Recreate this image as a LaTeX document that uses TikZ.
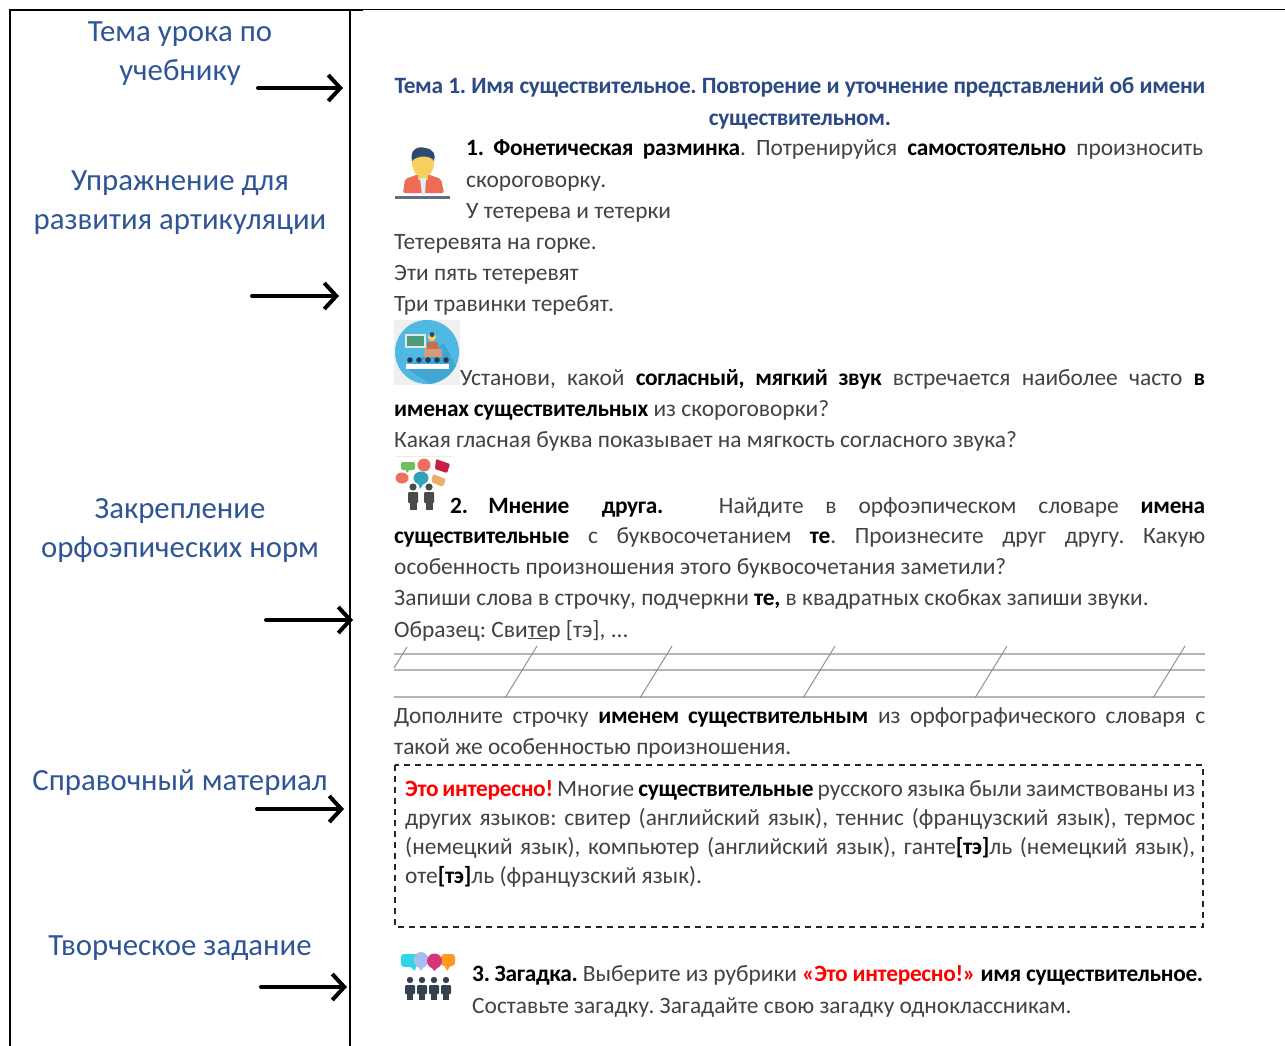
\documentclass[tikz,border=0pt]{standalone}
\usepackage{fontspec}
\setmainfont{Carlito}[BoldFeatures={LetterSpace=-1.4}]
\usetikzlibrary{arrows.meta}
\definecolor{lab}{HTML}{2F5597}
\definecolor{ttl}{HTML}{2B4A86}
\definecolor{body}{HTML}{424242}
\definecolor{rul}{HTML}{B5B5B5}
\definecolor{skin}{HTML}{F8CF5C}
\definecolor{hair}{HTML}{2C4A6E}
\definecolor{shirt}{HTML}{EE6B55}
\definecolor{sky}{HTML}{4FB9E3}
\definecolor{skyd}{HTML}{42A6D0}
\definecolor{board}{HTML}{4E9B7E}
\definecolor{brwn}{HTML}{C8703F}
\definecolor{bargray}{HTML}{5C6F85}
\definecolor{gbub}{HTML}{6FBF5E}
\definecolor{cbub}{HTML}{EE6F5E}
\definecolor{crim}{HTML}{C41F45}
\definecolor{teal}{HTML}{2FA3B8}
\definecolor{tan}{HTML}{EDAE6B}
\definecolor{ppl}{HTML}{4A4A4A}
\definecolor{ppl2}{HTML}{36414F}
\definecolor{bcy}{HTML}{2FD6E6}
\definecolor{bbl}{HTML}{A5BDF0}
\definecolor{bmg}{HTML}{D8347A}
\definecolor{bor}{HTML}{FF9A1F}
\newcommand\fitw[2]{\makebox[#1pt][s]{#2}}
\newcommand\bb[1]{\textbf{\textcolor{black}{#1}}}
\newcommand\rr[1]{\textbf{\textcolor{red}{#1}}}
\tikzset{
 lbl/.style={inner sep=0pt,align=center,text=lab,font=\fontsize{30.8}{39}\selectfont},
 txt/.style={inner sep=0pt,anchor=base west,text=body,font=\fontsize{23.4}{26}\selectfont\frenchspacing},
 ttlx/.style={inner sep=0pt,anchor=base,text=ttl,font=\bfseries\fontsize{23.4}{26}\selectfont\frenchspacing},
 frame/.style={line width=2.2pt,black},
 arr/.style={line width=4pt,black,line cap=round,-{Straight Barb[length=12pt,width=26pt,line width=4pt]}},
 wr/.style={line width=1.4pt,rul},
 sl/.style={line width=1pt,rul!80!black}
}
\begin{document}
\begin{tikzpicture}[x=1pt,y=-1pt]
\useasboundingbox (0,0) rectangle (1285,1046);
\fill[white] (0,0) rectangle (1285,1046);
% frame
\coordinate (ftl) at (10,10); \coordinate (fbl) at (10,1046);
\coordinate (fm) at (350,10); \coordinate (fmb) at (350,1046);
\coordinate (ftm) at (363,10); \coordinate (ftr) at (1285,10);
\draw[frame] (fbl) -- (ftl) -- (ftm);
\draw[frame] (fm) -- (fmb);
\draw[line width=1pt,black] (ftm) -- (ftr);
% labels
\node[lbl] (l1) at (180,54) {Тема урока по\\учебнику};
\node[lbl] (l2) at (180,203) {Упражнение для\\развития артикуляции};
\node[lbl] (l3) at (180,531) {Закрепление\\орфоэпических норм};
\node[lbl] (l4) at (180,783) {Справочный материал};
\node[lbl] (l5) at (180,948) {Творческое задание};
% arrows
\coordinate (a1s) at (258,88); \coordinate (a1e) at (343,88);
\coordinate (a2s) at (252,296); \coordinate (a2e) at (339,296);
\coordinate (a3s) at (266,620); \coordinate (a3e) at (353,620);
\coordinate (a4s) at (257,809); \coordinate (a4e) at (344,809);
\coordinate (a5s) at (261,987); \coordinate (a5e) at (347,987);
\draw[arr] (a1s) -- (a1e);
\draw[arr] (a2s) -- (a2e);
\draw[arr] (a3s) -- (a3e);
\draw[arr] (a4s) -- (a4e);
\draw[arr] (a5s) -- (a5e);
% title
\node[ttlx] (t1) at (800,94) {\fitw{811}{Тема 1. Имя существительное. Повторение и уточнение представлений об имени}};
\node[ttlx] (t2) at (800,126) {существительном.};
% body
\node[txt] (b1) at (466,156) {\fitw{737}{\bb{1. Фонетическая разминка}. Потренируйся \bb{самостоятельно} произносить}};
\node[txt] (b2) at (466,187) {скороговорку.};
\node[txt] (b3) at (466,218) {У тетерева и тетерки};
\node[txt] (b4) at (394,249) {Тетеревята на горке.};
\node[txt] (b5) at (394,280) {Эти пять тетеревят};
\node[txt] (b6) at (394,311) {Три травинки теребят.};
\node[txt] (b7) at (460,385) {\fitw{745}{Установи, какой \bb{согласный, мягкий звук} встречается наиболее часто \bb{в}}};
\node[txt] (b8) at (394,416) {\bb{именах существительных} из скороговорки?};
\node[txt] (b9) at (394,447) {Какая гласная буква показывает на мягкость согласного звука?};
\node[txt] (b10) at (450,513) {\fitw{755}{\bb{2. Мнение\hspace{12pt} друга.} \hspace{12pt} Найдите в орфоэпическом словаре \bb{имена}}};
\node[txt] (b11) at (394,543) {\fitw{811}{\bb{существительные} с буквосочетанием \bb{те}. Произнесите друг другу. Какую}};
\node[txt] (b12) at (394,574) {особенность произношения этого буквосочетания заметили?};
\node[txt] (b13) at (394,605) {Запиши слова в строчку, подчеркни \bb{те,} в квадратных скобках запиши звуки.};
\node[txt] (b14) at (394,637) {Образец: Сви\underline{те}р [тэ], ...};
\node[txt] (b15) at (394,723) {\fitw{811}{Дополните строчку \bb{именем существительным} из орфографического словаря с}};
\node[txt] (b16) at (394,754) {такой же особенностью произношения.};
% writing lines
\draw[wr] (394,654) -- (1205,654);
\draw[wr] (394,670) -- (1205,670);
\draw[wr] (394,697) -- (1205,697);
\draw[sl] (407,647) -- (394,668);
\foreach \xa/\xb in {537/505,672/640,835/803,1007/975,1185/1153}
 \draw[sl] (\xa,646) -- (\xb,698);
% dashed box
\draw[line width=1.1pt,black!85,dash pattern=on 6pt off 5pt] (395,765) rectangle (1203,927);
\node[txt] (c1) at (405,796) {\fitw{790}{\rr{Это интересно!} Многие \bb{существительные} русского языка были заимствованы из}};
\node[txt] (c2) at (405,825) {\fitw{790}{других языков: свитер (английский язык), теннис (французский язык), термос}};
\node[txt] (c3) at (405,854) {\fitw{790}{(немецкий язык), компьютер (английский язык), ганте\bb{[тэ]}ль (немецкий язык),}};
\node[txt] (c4) at (405,883) {оте\bb{[тэ]}ль (французский язык).};
% last
\node[txt] (d1) at (472,981) {\fitw{731}{\bb{3. Загадка.} Выберите из рубрики \rr{«Это интересно!»} \bb{имя существительное.}}};
\node[txt] (d2) at (472,1013) {Составьте загадку. Загадайте свою загадку одноклассникам.};
% icon 1: person
\fill[shirt,rounded corners=2pt] (403,193) -- (405,179) -- (419,174) -- (427,174) -- (441,179) -- (444,193) -- cycle;
\fill[skin] (418,172) rectangle (428,180);
\fill[white!80!sky] (420,178) -- (426,178) -- (425,195) -- (422,195) -- cycle;
\fill[skin] (423,163) ellipse (11pt and 14pt);
\fill[hair] (412,161) .. controls (409,148) and (420,146) .. (425,148) .. controls (434,149) and (436,155) .. (434,161) .. controls (431,155) and (417,155) .. (412,161) -- cycle;
\draw[line width=3pt,bargray] (395,197) -- (450,197);
% icon 2: teacher
\fill[black!6] (394,320) rectangle (460,385);
\fill[sky] (427,352) circle (32pt);
\fill[skyd] (444,343) -- (456,366) .. controls (450,376) and (440,382) .. (430,384) -- (406,368) -- cycle;
\fill[white!80!board] (405,334) rectangle (426,348);
\fill[board] (407,336) rectangle (424,346);
\fill[brwn] (427,342) rectangle (438,352);
\fill[brwn!70!white] (424,349) rectangle (442,357);
\fill[skin] (432,337) circle (4pt);
\fill[hair] (432,334.5) circle (2.5pt);
\foreach \i in {0,1,2,3,4} \fill[hair!80!black] (410+\i*9,360) circle (2.8pt);
\fill[white] (406,364) rectangle (449,369);
% icon 3: talk
\draw[line width=1pt,black!8] (395,456) -- (452,456);
\fill[gbub,rounded corners=2pt] (401,462) rectangle (415,470);
\fill[gbub] (405,469) -- (410,469) -- (407,473) -- cycle;
\fill[cbub] (424,465) circle (6.5pt);
\fill[crim,rounded corners=1pt] (436,459) -- (450,464) -- (447,473) -- (435,469) -- cycle;
\fill[cbub] (402,478) ellipse (6.5pt and 5.5pt);
\fill[teal] (421,478) ellipse (7.5pt and 6.5pt);
\fill[teal] (418,483) -- (424,483) -- (420,489) -- cycle;
\fill[tan,rounded corners=2pt] (433,474) -- (446,479) -- (443,487) -- (431,482) -- cycle;
\foreach \px in {413,429}{
 \fill[ppl] (\px,487) circle (3.6pt);
 \fill[ppl,rounded corners=1pt] (\px-5,492) rectangle (\px+5,503);
 \fill[ppl] (\px-3.5,503) rectangle (\px+3.5,510);
}
% icon 4: crowd
\fill[bcy,rounded corners=3pt] (401,954) rectangle (418,967);
\fill[bcy] (410,966) -- (416,966) -- (415,971) -- cycle;
\fill[bbl] (421,960) ellipse (7.5pt and 8pt);
\fill[bbl] (418,966) -- (424,966) -- (421,971) -- cycle;
\fill[bor,rounded corners=3pt] (441,954) rectangle (455,966);
\fill[bor] (444,965) -- (451,965) -- (447,971) -- cycle;
\fill[bmg] (434.5,961) circle (7.5pt);
\fill[bmg] (431,967) -- (438,967) -- (434.5,971) -- cycle;
\foreach \px in {410,422,434,446}{
 \fill[ppl2] (\px,980) circle (3.2pt);
 \fill[ppl2,rounded corners=1pt] (\px-5,985) rectangle (\px+5,994);
 \fill[ppl2] (\px-3,994) rectangle (\px+3,1000);
}
\end{tikzpicture}
\end{document}
